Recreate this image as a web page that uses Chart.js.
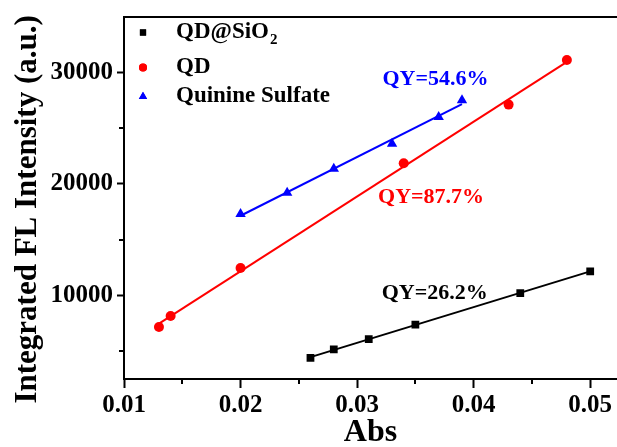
<!DOCTYPE html>
<html><head><meta charset="utf-8">
<script src="https://cdn.jsdelivr.net/npm/chart.js@4/dist/chart.umd.min.js"></script>
<style>html,body{margin:0;padding:0;background:#fff;overflow:hidden}#wrap{width:617px;height:447px;position:relative}</style>
</head><body><div id="wrap"><canvas id="c" width="617" height="447"></canvas></div>
<script>
// ---- data ----
const seriesNames = ['QD@SiO₂', 'QD', 'Quinine Sulfate'];
const qdSiO2Abs = [0.026, 0.028, 0.031, 0.035, 0.044, 0.050];
const qdSiO2FL  = [4400, 5150, 6070, 7380, 10200, 12150];
const qdAbs     = [0.013, 0.014, 0.020, 0.034, 0.043, 0.048];
const qdFL      = [7170, 8150, 12450, 21850, 27100, 31100];
const qsAbs     = [0.020, 0.024, 0.028, 0.033, 0.037, 0.039];
const qsFL      = [17300, 19200, 21350, 23600, 26000, 27500];
const qyTexts   = ['QY=26.2%', 'QY=87.7%', 'QY=54.6%'];
const xTicks      = [0.01, 0.02, 0.03, 0.04, 0.05];
const xMinorTicks = [0.015, 0.025, 0.035, 0.045];
const yTicks      = [10000, 20000, 30000];
const yMinorTicks = [5000, 15000, 25000];

// ---- presentation ----
const FONT = "'Liberation Serif', 'Times New Roman', serif";
const colors = ['#000000', '#ff0000', '#0000ff'];
const markers = ['rect', 'circle', 'triangle'];
const markerRadius = [5.5, 5, 6];
const qyAnchors = [{x: 0.03666, y: 10220}, {x: 0.03635, y: 18775}, {x: 0.03672, y: 29375}];

const series = [[qdSiO2Abs, qdSiO2FL], [qdAbs, qdFL], [qsAbs, qsFL]];

function linFit(xs, ys) {
  const n = xs.length;
  const mx = xs.reduce((a, b) => a + b, 0) / n;
  const my = ys.reduce((a, b) => a + b, 0) / n;
  let sxy = 0, sxx = 0;
  for (let i = 0; i < n; i++) { sxy += (xs[i] - mx) * (ys[i] - my); sxx += (xs[i] - mx) ** 2; }
  const k = sxy / sxx, b = my - k * mx;
  const x0 = Math.min(...xs), x1 = Math.max(...xs);
  return [{x: x0, y: k * x0 + b}, {x: x1, y: k * x1 + b}];
}

const datasets = [];
series.forEach(([xs, ys], i) => {
  datasets.push({
    label: seriesNames[i] + ' fit', data: linFit(xs, ys), showLine: true,
    borderColor: colors[i], borderWidth: 2, pointRadius: 0, order: 2
  });
});
series.forEach(([xs, ys], i) => {
  datasets.push({
    label: seriesNames[i], data: xs.map((x, j) => ({x, y: ys[j]})), showLine: false,
    backgroundColor: colors[i], borderColor: colors[i], borderWidth: 0,
    pointStyle: markers[i], pointRadius: markerRadius[i], order: 1
  });
});

const extras = {
  id: 'extras',
  afterDraw(chart) {
    const ctx = chart.ctx, ca = chart.chartArea;
    const xs = chart.scales.x, ys = chart.scales.y;
    ctx.save();
    // minor ticks
    ctx.strokeStyle = '#000'; ctx.lineWidth = 2;
    xMinorTicks.forEach(v => {
      const p = Math.round(xs.getPixelForValue(v));
      ctx.beginPath(); ctx.moveTo(p, ca.bottom); ctx.lineTo(p, ca.bottom + 5); ctx.stroke();
    });
    yMinorTicks.forEach(v => {
      const p = Math.round(ys.getPixelForValue(v));
      ctx.beginPath(); ctx.moveTo(ca.left, p); ctx.lineTo(ca.left - 5, p); ctx.stroke();
    });
    // QY annotations
    ctx.font = 'bold 22px ' + FONT;
    ctx.textAlign = 'center'; ctx.textBaseline = 'middle';
    qyTexts.forEach((t, i) => {
      ctx.fillStyle = colors[i];
      ctx.fillText(t, xs.getPixelForValue(qyAnchors[i].x), ys.getPixelForValue(qyAnchors[i].y));
    });
    // legend
    const rows = [ca.top + 16, ca.top + 51, ca.top + 80];
    const mx = ca.left + 19, tx = ca.left + 52;
    seriesNames.forEach((name, i) => {
      const y = rows[i];
      ctx.fillStyle = colors[i];
      Chart.helpers.drawPoint(ctx, {pointStyle: markers[i], radius: markerRadius[i] * 0.8, borderWidth: 0}, mx, y);
      ctx.fill();
      ctx.fillStyle = '#000';
      ctx.textAlign = 'left'; ctx.textBaseline = 'middle';
      if (name.includes('₂')) {
        const main = name.replace('₂', '');
        ctx.font = 'bold 23px ' + FONT;
        ctx.fillText(main, tx, y);
        const w = ctx.measureText(main).width;
        ctx.font = 'bold 15px ' + FONT;
        ctx.fillText('2', tx + w + 1, y + 8);
      } else {
        ctx.font = 'bold 23px ' + FONT;
        ctx.fillText(name, tx, y);
      }
    });
    ctx.restore();
  }
};

const tickFont = {family: FONT, size: 25, weight: 'bold', lineHeight: 1};
new Chart(document.getElementById('c'), {
  type: 'scatter',
  data: {datasets},
  plugins: [extras],
  options: {
    responsive: false, animation: false,
    layout: {autoPadding: false, padding: {left: 9, right: 0, top: 15, bottom: 0}},
    plugins: {legend: {display: false}, tooltip: {enabled: false}},
    scales: {
      x: {
        type: 'linear', position: 'bottom', min: 0.01, max: 0.0523,
        afterBuildTicks: s => { s.ticks = xTicks.map(v => ({value: v})); },
        afterFit: s => { s.paddingRight = 0; s.height = 68; },
        ticks: {font: tickFont, color: '#000', padding: 5, maxRotation: 0, autoSkip: false,
                callback: v => v.toFixed(2)},
        grid: {drawOnChartArea: false, drawTicks: true, tickLength: 9, tickColor: '#000', tickWidth: 2},
        border: {display: true, color: '#000', width: 2},
        title: {display: true, text: 'Abs', color: '#000',
                font: {family: FONT, size: 32, weight: 'bold', lineHeight: 0.8}, padding: {top: 1, bottom: 1}}
      },
      xTop: {
        type: 'linear', position: 'top', min: 0.01, max: 0.0523,
        afterFit: s => { s.paddingRight = 0; s.paddingLeft = 0; s.height = 0; },
        ticks: {display: false},
        grid: {drawOnChartArea: false, drawTicks: false},
        border: {display: true, color: '#000', width: 2}
      },
      y: {
        type: 'linear', position: 'left', min: 2500, max: 35000,
        afterBuildTicks: s => { s.ticks = yTicks.map(v => ({value: v})); },
        afterFit: s => { s.width = 115; },
        ticks: {font: tickFont, color: '#000', padding: 4, callback: v => String(v)},
        grid: {drawOnChartArea: false, drawTicks: true, tickLength: 7, tickColor: '#000', tickWidth: 2},
        border: {display: true, color: '#000', width: 2},
        title: {display: true, text: 'Integrated FL Intensity (a.u.)   ', color: '#000',
                font: {family: FONT, size: 31, weight: 'bold', lineHeight: 1.2}, padding: {top: 0, bottom: 0}}
      }
    }
  }
});
</script></body></html>
